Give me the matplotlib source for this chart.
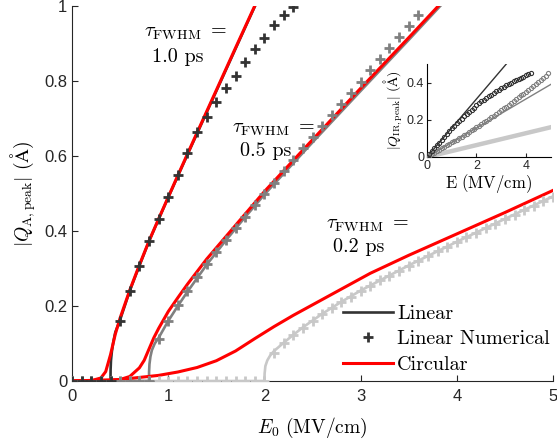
import numpy as np
import matplotlib
matplotlib.use('Agg')
import matplotlib.pyplot as plt
from matplotlib.lines import Line2D

plt.rcParams['mathtext.fontset'] = 'cm'
plt.rcParams['font.family'] = ['Liberation Sans', 'DejaVu Sans']
plt.rcParams['axes.unicode_minus'] = False

# colours for the three pulse lengths
c_dark = '#333333'
c_mid = '#808080'
c_light = '#c8c8c8'
c_red = '#ff0000'

# ---- linear (analytic) curves ----
E_lin10 = [0, 0.4, 0.401, 0.405, 0.415, 0.43, 0.45, 0.5, 0.6, 0.7, 0.8, 0.9, 1.0, 1.2, 1.4, 1.6, 1.8, 1.9]
Q_lin10 = [0, 0, 0.03, 0.055, 0.08, 0.105, 0.13, 0.163, 0.24, 0.307, 0.372, 0.431, 0.489, 0.603, 0.716, 0.829, 0.942, 0.998]

E_lin05 = [0, 0.8, 0.801, 0.805, 0.815, 0.83, 0.86, 0.9, 1.0, 1.1, 1.2, 1.4, 1.6, 1.8, 2.0, 2.5, 3.0, 3.5, 3.83]
Q_lin05 = [0, 0, 0.025, 0.045, 0.065, 0.082, 0.1, 0.115, 0.16, 0.2, 0.238, 0.31, 0.375, 0.437, 0.497, 0.636, 0.773, 0.909, 1.0]

E_lin02 = [0, 2.0, 2.002, 2.01, 2.03, 2.06, 2.1, 2.2, 2.3, 2.4, 2.6, 2.8, 3.0, 3.5, 4.0, 4.5, 5.0]
Q_lin02 = [0, 0, 0.02, 0.04, 0.055, 0.068, 0.08, 0.102, 0.123, 0.143, 0.179, 0.211, 0.241, 0.308, 0.371, 0.432, 0.492]

# ---- circular polarisation ----
E_cir10 = [0, 0.2, 0.3, 0.35, 0.4, 0.45, 0.5, 0.6, 0.7, 0.8, 0.9, 1.0, 1.1, 1.2, 1.3, 1.5, 1.7, 1.9]
Q_cir10 = [0, 0.001, 0.008, 0.025, 0.07, 0.125, 0.168, 0.242, 0.309, 0.373, 0.432, 0.49, 0.548, 0.605, 0.662, 0.775, 0.888, 1.0]

E_cir05 = [0, 0.4, 0.5, 0.6, 0.7, 0.75, 0.8, 0.85, 0.9, 1.0, 1.1, 1.2, 1.4, 1.6, 1.8, 2.0, 2.5, 3.0, 3.5, 3.81]
Q_cir05 = [0, 0.001, 0.004, 0.012, 0.035, 0.055, 0.085, 0.115, 0.14, 0.185, 0.222, 0.258, 0.325, 0.385, 0.445, 0.505, 0.643, 0.78, 0.915, 1.0]

E_cir02 = [0, 0.5, 0.9, 1.1, 1.3, 1.5, 1.7, 1.9, 2.1, 2.3, 2.5, 2.8, 3.1, 3.5, 4.0, 4.5, 5.0]
Q_cir02 = [0, 0.004, 0.015, 0.024, 0.036, 0.054, 0.08, 0.113, 0.145, 0.175, 0.203, 0.245, 0.287, 0.335, 0.392, 0.449, 0.508]

# ---- linear numerical points ----
E_num10 = [0, 0.1, 0.2, 0.3, 0.4, 0.5, 0.6, 0.7, 0.8, 0.9, 1.0, 1.1, 1.2, 1.3, 1.4, 1.5, 1.6, 1.7, 1.8, 1.9, 2.0, 2.1, 2.2, 2.3]
Q_num10 = [0, 0, 0, 0, 0, 0.160, 0.240, 0.307, 0.373, 0.432, 0.491, 0.549, 0.608, 0.663, 0.703, 0.744,
           0.782, 0.813, 0.851, 0.885, 0.914, 0.949, 0.976, 0.997]

E_num05 = [0, 0.1, 0.2, 0.3, 0.4, 0.5, 0.6, 0.7, 0.8, 0.9, 1.0, 1.1, 1.2, 1.3, 1.4, 1.5, 1.6, 1.7, 1.8,
           1.9, 2.0, 2.1, 2.2, 2.3, 2.4, 2.5, 2.6, 2.7, 2.8, 2.9, 3.0, 3.1, 3.2, 3.3, 3.4, 3.5, 3.6]
Q_num05 = [0, 0, 0, 0, 0, 0, 0, 0, 0, 0.112, 0.161, 0.203, 0.241, 0.277, 0.311, 0.344, 0.376, 0.407, 0.438,
           0.468, 0.498, 0.528, 0.560, 0.590, 0.620, 0.650, 0.680, 0.709, 0.739, 0.768, 0.798, 0.828, 0.858,
           0.888, 0.918, 0.947, 0.976]

E_num02 = [0, 0.1, 0.2, 0.3, 0.4, 0.5, 0.6, 0.7, 0.8, 0.9, 1.0, 1.1, 1.2, 1.3, 1.4, 1.5, 1.6, 1.7, 1.8, 1.9, 2.0,
           2.1, 2.2, 2.3, 2.4, 2.5, 2.6, 2.7, 2.8, 2.9, 3.0, 3.1, 3.2, 3.3, 3.4, 3.5, 3.6, 3.7, 3.8, 3.9, 4.0,
           4.1, 4.2, 4.3, 4.4, 4.5, 4.6, 4.7, 4.8, 4.9, 5.0]
Q_num02 = [0] * 21 + [0.075, 0.1, 0.122, 0.142, 0.161, 0.178, 0.194, 0.21, 0.225, 0.24, 0.254, 0.268, 0.281,
                      0.294, 0.307, 0.32, 0.333, 0.346, 0.358, 0.371, 0.383, 0.395, 0.407, 0.419, 0.431, 0.443,
                      0.455, 0.467, 0.479, 0.491]

# ---- inset: IR mode amplitude ----
E_in_lin = [0, 5]
Q_in_dark = [0, 0.78]
Q_in_mid = [0, 0.39]
Q_in_light = [0, 0.16]

E_in_dark_pts = [0, 0.1, 0.2, 0.3, 0.4, 0.5, 0.6, 0.7, 0.8, 0.9, 1.0, 1.1, 1.2, 1.3, 1.4, 1.5, 1.6, 1.7, 1.8,
                 1.9, 2.0, 2.1, 2.2, 2.3, 2.4, 2.5, 2.6, 2.7, 2.8, 2.9, 3.0, 3.1, 3.2, 3.3, 3.4, 3.5, 3.6, 3.7,
                 3.8, 3.9, 4.0, 4.1, 4.2]
Q_in_dark_pts = [0, 0.015, 0.031, 0.046, 0.062, 0.077, 0.092, 0.108, 0.123, 0.139, 0.154, 0.168, 0.181, 0.193,
                 0.205, 0.218, 0.23, 0.242, 0.255, 0.266, 0.278, 0.289, 0.299, 0.309, 0.318, 0.327, 0.336, 0.345,
                 0.354, 0.362, 0.37, 0.378, 0.386, 0.393, 0.4, 0.407, 0.413, 0.419, 0.425, 0.43, 0.44, 0.445, 0.45]

E_in_mid_pts = [0, 0.1, 0.2, 0.3, 0.4, 0.5, 0.6, 0.7, 0.8, 0.9, 1.0, 1.1, 1.2, 1.3, 1.4, 1.5, 1.6, 1.7, 1.8,
                1.9, 2.0, 2.1, 2.2, 2.3, 2.4, 2.5, 2.6, 2.7, 2.8, 2.9, 3.0, 3.1, 3.2, 3.3, 3.4, 3.5, 3.6, 3.7,
                3.8, 3.9, 4.0, 4.1, 4.2, 4.3, 4.4, 4.5, 4.6, 4.7, 4.8, 4.9]
Q_in_mid_pts = [0, 0.008, 0.016, 0.023, 0.031, 0.039, 0.047, 0.055, 0.062, 0.07, 0.078, 0.086, 0.094, 0.102,
                0.11, 0.118, 0.126, 0.135, 0.143, 0.152, 0.16, 0.169, 0.178, 0.187, 0.196, 0.205, 0.214, 0.223,
                0.233, 0.242, 0.252, 0.261, 0.271, 0.281, 0.291, 0.301, 0.311, 0.321, 0.331, 0.341, 0.352,
                0.362, 0.373, 0.383, 0.394, 0.405, 0.416, 0.427, 0.438, 0.449]

pulse_text = ['1.0 ps', '0.5 ps', '0.2 ps']
tau_pos = [(1.175, 0.928), (2.09, 0.672), (3.07, 0.416)]
ps_pos = [(1.10, 0.864), (2.01, 0.612), (2.98, 0.358)]

serif = 'cmr10'
fs = 14.5

fig = plt.figure(figsize=(5.57, 4.42), dpi=100)
ax = fig.add_axes([0.1293, 0.138, 0.8636, 0.849])

lw_lin = 1.9
lw_red = 2.2
mk = dict(marker='+', linestyle='none', markersize=6.5, markeredgewidth=2.0)

for E, Q, c in [(E_lin02, Q_lin02, c_light), (E_lin05, Q_lin05, c_mid), (E_lin10, Q_lin10, c_dark)]:
    ax.plot(E, Q, color=c, lw=lw_lin, zorder=2)
for E, Q in [(E_cir02, Q_cir02), (E_cir05, Q_cir05), (E_cir10, Q_cir10)]:
    ax.plot(E, Q, color=c_red, lw=lw_red, zorder=3)
for E, Q, c in [(E_num02, Q_num02, c_light), (E_num05, Q_num05, c_mid), (E_num10, Q_num10, c_dark)]:
    ax.plot(E, Q, color=c, zorder=4, **mk)

for txt, (x1, y1), (x2, y2) in zip(pulse_text, tau_pos, ps_pos):
    ax.text(x1, y1, r'$\tau_{\mathrm{FWHM}}$ $=$', ha='center', va='center', fontsize=fs)
    ax.text(x2, y2, txt, ha='center', va='center', fontsize=fs, family=serif)

ax.set_xlim(0, 5)
ax.set_ylim(0, 1)
ax.set_xticks([0, 1, 2, 3, 4, 5])
ax.set_yticks([0, 0.2, 0.4, 0.6, 0.8, 1])
ax.set_yticklabels(['0', '0.2', '0.4', '0.6', '0.8', '1'])
ax.tick_params(direction='in', length=4, width=0.8, labelsize=12, colors='#262626')
ax.tick_params(axis='x', pad=6)
for s in ['top', 'right']:
    ax.spines[s].set_visible(False)
for s in ['left', 'bottom']:
    ax.spines[s].set_color('#262626')
ax.set_xlabel(r'$E_0\ (\mathrm{MV/cm})$', fontsize=14, labelpad=8)
ax.set_ylabel(r'$|Q_{\mathrm{A,peak}}|\ (\mathrm{\AA})$', fontsize=14)

handles = [Line2D([], [], color=c_dark, lw=lw_lin),
           Line2D([], [], color=c_dark, **mk),
           Line2D([], [], color=c_red, lw=lw_red)]
fig.legend(handles, ['Linear', 'Linear Numerical', 'Circular'],
           loc='upper left', bbox_to_anchor=(343 / 557, 1 - 305 / 442), frameon=False,
           prop={'family': serif, 'size': fs}, borderpad=0, borderaxespad=0,
           handlelength=2.5, handletextpad=0.2, labelspacing=0.36)

# inset
axi = fig.add_axes([0.7666, 0.6448, 0.2221, 0.2104])
axi.plot(E_in_lin, Q_in_light, color=c_light, lw=3.2, zorder=2)
axi.plot(E_in_lin, Q_in_mid, color=c_mid, lw=1.0, zorder=2)
axi.plot(E_in_lin, Q_in_dark, color=c_dark, lw=1.0, zorder=2)
axi.plot(E_in_mid_pts, Q_in_mid_pts, 'o', mfc='none', mec=c_mid, ms=3, mew=0.8, zorder=3)
axi.plot(E_in_dark_pts, Q_in_dark_pts, 'o', mfc='none', mec=c_dark, ms=3, mew=0.8, zorder=3)
axi.set_xlim(0, 5)
axi.set_ylim(0, 0.5)
axi.set_xticks([0, 2, 4])
axi.set_yticks([0, 0.2, 0.4])
axi.set_yticklabels(['0', '0.2', '0.4'])
axi.tick_params(direction='in', length=3, width=0.8, labelsize=9, pad=2, colors='#262626')
for s in ['top', 'right']:
    axi.spines[s].set_visible(False)
axi.set_xlabel(r'$\mathrm{E\ (MV/cm)}$', fontsize=12, labelpad=0)
axi.set_ylabel(r'$|Q_{\mathrm{IR,peak}}|\ (\mathrm{\AA})$', fontsize=10, labelpad=1)
axi.patch.set_alpha(0)

fig.savefig('out.png', dpi=100)
